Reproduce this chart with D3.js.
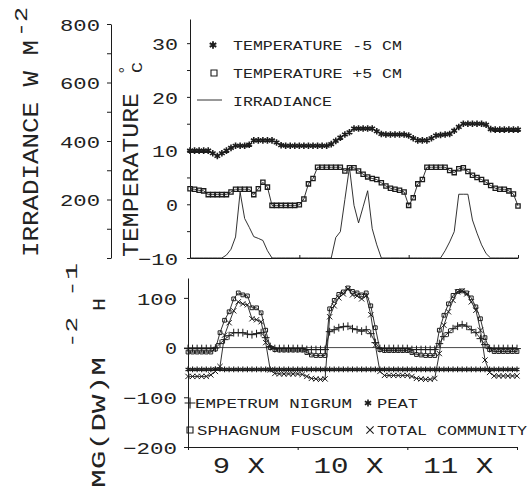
<!DOCTYPE html>
<html><head><meta charset="utf-8">
<script src="https://cdn.jsdelivr.net/npm/d3@7"></script>
<style>
body{margin:0;background:#fff;}
svg text{font-family:"Liberation Mono","DejaVu Sans Mono",monospace;fill:#222;}
</style></head><body>
<svg id="c" width="530" height="489"></svg>
<script>
// ---------- DATA (hourly, 9 X 00h .. 12 X 00h) ----------
const hours = d3.range(0, 73);
const dayBounds = [0, 24, 48, 72];
const dayLabels = ["9 X", "10 X", "11 X"];
const irrTicks = [0,100,200,300,400,500,600,700,800];
const irrLabels = [200,400,600,800];
const tempTicks = [-10,-5,0,5,10,15,20,25,30];
const tempLabels = [-10,0,10,20,30];
const fluxTicks = [-200,-100,0,100];

const tempDeep = [10.0,10.0,10.0,10.0,10.0,9.5,9.0,9.5,10.0,10.5,
 10.9,10.9,10.9,11.1,11.9,11.9,11.9,11.9,11.9,11.5,
 11.0,10.9,10.9,10.9,10.9,10.9,10.9,10.9,10.9,10.9,
 10.9,11.2,11.8,12.4,13.0,13.4,14.1,14.1,14.1,14.1,
 14.1,13.6,13.1,13.0,13.0,13.0,13.0,13.0,12.8,12.3,
 11.9,11.9,11.9,12.3,12.8,12.9,13.0,13.1,13.7,14.4,
 15.0,15.0,15.0,15.0,15.0,14.8,14.0,13.9,13.9,13.9,
 13.9,13.9,13.9];
const tempAir = [2.9,2.8,2.6,2.5,1.8,1.8,1.8,1.8,1.8,2.3,
 2.8,2.8,2.8,2.8,1.8,2.9,4.1,3.2,-0.2,-0.2,
 -0.2,-0.2,-0.2,-0.2,-0.1,1.0,3.8,4.8,6.9,6.9,
 6.9,6.9,6.9,6.9,6.2,6.8,6.8,6.2,5.6,5.1,
 4.8,4.6,4.0,3.4,3.0,2.8,2.6,2.3,-0.2,1.2,
 3.8,4.6,6.9,6.9,6.9,6.9,6.9,6.3,5.9,6.6,
 6.8,6.1,5.4,5.0,4.6,4.1,3.5,3.0,2.8,2.8,
 2.5,1.9,-0.3];
const irradiance = [0,0,0,0,0,0,0,0,10,30,
 72,225,135,105,73,67,60,25,0,0,
 0,0,0,0,0,0,0,0,0,0,
 0,0,70,90,200,310,180,120,175,230,
 100,45,0,0,0,0,0,0,0,0,
 0,0,0,0,0,0,25,55,90,218,
 218,218,130,85,45,15,0,0,0,0,
 0,0,0];
const sphagnum = [-9,-9,-9,-9,-9,-9,-3,30,55,72,
 98,110,106,104,80,80,70,35,0,-4,
 -5,-5,-5,-5,-5,-5,-10,-15,-16,-16,
 -16,78,95,107,112,120,113,110,106,110,
 84,40,-4,-6,-6,-6,-6,-6,-6,-10,
 -14,-15,-16,-16,-16,35,65,88,105,113,
 114,110,100,82,58,20,-4,-8,-8,-8,
 -8,-8,-8];
const empetrum = [-2,-2,-2,-2,-2,-2,-1,8,16,24,
 30,30,30,27,26,28,30,20,2,-2,
 -2,-2,-2,-2,-2,-2,-4,-4,-4,-4,
 -4,32,36,40,42,43,38,36,33,36,
 28,10,-2,-2,-2,-2,-2,-2,-2,-4,
 -4,-4,-4,-4,-4,8,22,30,38,43,
 46,43,36,30,18,6,-2,-2,-2,-2,
 -2,-2,-2];
const peat = [-44,-44,-44,-44,-44,-44,-43,-43,-44,-44,
 -44,-44,-44,-44,-44,-44,-44,-44,-44,-44,
 -44,-44,-44,-44,-44,-44,-44,-44,-44,-44,
 -44,-44,-44,-44,-44,-44,-44,-44,-44,-44,
 -44,-44,-44,-44,-44,-44,-44,-44,-44,-44,
 -44,-44,-44,-44,-44,-44,-44,-44,-44,-44,
 -44,-44,-44,-44,-44,-44,-44,-44,-44,-44,
 -44,-44,-44];
const totalCommunity = [-58,-58,-58,-58,-58,-55,-48,-38,25,50,
 74,92,88,86,58,56,52,10,-45,-52,
 -53,-53,-53,-53,-53,-54,-58,-62,-63,-64,
 -63,62,84,100,108,118,106,104,98,104,
 66,5,-48,-56,-56,-56,-56,-56,-56,-58,
 -62,-63,-64,-64,-62,-12,45,72,95,112,
 114,108,92,75,35,-25,-50,-57,-57,-57,
 -57,-57,-57];

// ---------- DRAWING ----------
const ink = "#1c1c1c";
const svg = d3.select("#c");
svg.append("rect").attr("width",530).attr("height",489).attr("fill","#fff");

const xTop = d3.scaleLinear().domain([0,72]).range([190,518]);
const yTemp = d3.scaleLinear().domain([-10,34.5]).range([258,19]);
const yIrr = d3.scaleLinear().domain([0,800]).range([258,24]);
const xBot = d3.scaleLinear().domain([0,72]).range([188,517]);
const yFlux = d3.scaleLinear().domain([-200,140]).range([447,278]);

const symAst = d3.symbolAsterisk || d3.symbolCross;
const symPlus = d3.symbolPlus || d3.symbolCross;
const symTimes = d3.symbolTimes || d3.symbolX || d3.symbolCross;
const symSq = d3.symbolSquare;

function txt(parent, x, y, s, size, o = {}) {
  const t = parent.append("text").attr("x", x).attr("y", y)
    .attr("font-size", size).text(s);
  if (o.anchor) t.attr("text-anchor", o.anchor);
  if (o.len) t.attr("textLength", o.len).attr("lengthAdjust", "spacingAndGlyphs");
  if (o.rot) t.attr("transform", `rotate(-90 ${x} ${y})`);
  return t;
}
function styleAxis(g) {
  g.selectAll("path,line").attr("stroke", ink).attr("stroke-width", 1);
  g.selectAll("text").attr("font-family", null).attr("fill", ink);
}
function labelLen(s) { return 14 * String(s).length - 2; }

// --- top panel axes ---
const gI = svg.append("g").attr("transform", "translate(111,0)")
  .call(d3.axisLeft(yIrr).tickValues(irrTicks).tickSize(4).tickSizeOuter(0).tickPadding(7)
    .tickFormat(d => irrLabels.includes(d) ? String(d) : ""));
styleAxis(gI);
gI.selectAll("text").attr("font-size", 17).attr("dy", "0.36em")
  .each(function(){ const s = this.textContent; if (s) d3.select(this).attr("textLength", labelLen(s)).attr("lengthAdjust","spacingAndGlyphs"); });

const gT = svg.append("g").attr("transform", "translate(190,0)")
  .call(d3.axisLeft(yTemp).tickValues(tempTicks).tickSize(3).tickSizeOuter(0).tickPadding(9)
    .tickFormat(d => tempLabels.includes(d) ? d3.format("")(d) : ""));
styleAxis(gT);
gT.selectAll("text").attr("font-size", 17).attr("dy", "0.36em")
  .each(function(){ const s = this.textContent; if (s) d3.select(this).attr("textLength", labelLen(s)).attr("lengthAdjust","spacingAndGlyphs"); });

const gXT = svg.append("g").attr("transform", `translate(0,${yTemp(-10)})`)
  .call(d3.axisBottom(xTop).tickValues(dayBounds).tickSize(-3).tickSizeOuter(0).tickFormat(""));
styleAxis(gXT);

// --- bottom panel axes ---
const gF = svg.append("g").attr("transform", "translate(188,0)")
  .call(d3.axisLeft(yFlux).tickValues(fluxTicks).tickSize(4).tickSizeOuter(0).tickPadding(7)
    .tickFormat(d3.format("")));
styleAxis(gF);
gF.selectAll("text").attr("font-size", 17).attr("dy", "0.36em")
  .each(function(){ const s = this.textContent; d3.select(this).attr("textLength", labelLen(s)).attr("lengthAdjust","spacingAndGlyphs"); });

const gXB = svg.append("g").attr("transform", `translate(0,${yFlux(-200)})`)
  .call(d3.axisBottom(xBot).tickValues(dayBounds).tickSize(3).tickSizeOuter(0).tickFormat(""));
styleAxis(gXB);

// zero reference line
svg.append("line").attr("x1", xBot(0)).attr("x2", xBot(72))
  .attr("y1", yFlux(0)).attr("y2", yFlux(0)).attr("stroke", ink).attr("stroke-width", 0.8);

// day labels
dayLabels.forEach((s, i) => {
  txt(svg, xBot(dayBounds[i] + 12) - 4, 473, s, 22, {anchor: "middle", len: s.length * 18 - 2});
});

// --- series ---
function series(xs, ys, data, sym, size, sw) {
  const line = d3.line().x((d, i) => xs(hours[i])).y(d => ys(d));
  svg.append("path").datum(data).attr("d", line).attr("fill", "none")
    .attr("stroke", ink).attr("stroke-width", 0.9);
  if (sym) {
    const gen = d3.symbol().type(sym).size(size);
    svg.append("g").selectAll("path").data(data).join("path")
      .attr("transform", (d, i) => `translate(${xs(hours[i])},${ys(d)})`)
      .attr("d", gen).attr("fill", "none").attr("stroke", ink).attr("stroke-width", sw);
  }
}
series(xTop, yIrr, irradiance, null);
series(xTop, yTemp, tempDeep, symAst, 30, 1.6);
series(xTop, yTemp, tempAir, symSq, 18, 1.3);

series(xBot, yFlux, peat, symAst, 22, 1.2);
series(xBot, yFlux, totalCommunity, symTimes, 20, 1.0);
series(xBot, yFlux, empetrum, symPlus, 22, 1.0);
series(xBot, yFlux, sphagnum, symSq, 14, 1.0);

// --- top legend ---
function sym(x, y, type, size, sw) {
  svg.append("path").attr("transform", `translate(${x},${y})`)
    .attr("d", d3.symbol().type(type).size(size)).attr("fill", "none")
    .attr("stroke", ink).attr("stroke-width", sw);
}
sym(213, 45, symAst, 40, 1.8);
txt(svg, 233, 50, "TEMPERATURE -5 CM", 13, {len: 169});
sym(214, 73, symSq, 36, 1.1);
txt(svg, 233, 78, "TEMPERATURE +5 CM", 13, {len: 169});
svg.append("line").attr("x1", 197).attr("x2", 222).attr("y1", 100).attr("y2", 100)
  .attr("stroke", ink).attr("stroke-width", 0.9);
txt(svg, 233, 105.5, "IRRADIANCE", 13, {len: 99});

// --- bottom legend ---
sym(190, 403, symPlus, 40, 1.2);
txt(svg, 195, 408, "EMPETRUM NIGRUM", 13.5, {len: 157});
sym(368, 403, symAst, 36, 1.6);
txt(svg, 377, 408, "PEAT", 13.5, {len: 41});
sym(190, 430, symSq, 36, 1.1);
txt(svg, 197, 435, "SPHAGNUM FUSCUM", 13.5, {len: 156});
sym(370, 430, symTimes, 36, 1.1);
txt(svg, 377, 435, "TOTAL COMMUNITY", 13.5, {len: 150});

// --- axis titles ---
txt(svg, 38, 257, "IRRADIANCE W M", 22, {rot: true, len: 217});
txt(svg, 27, 37, "-2", 19, {rot: true, len: 30});
txt(svg, 138, 257, "TEMPERATURE", 22, {rot: true, len: 164});
txt(svg, 130, 75, "°", 16, {rot: true});
txt(svg, 142, 73, "C", 15, {rot: true, len: 11});
txt(svg, 105, 488, "MG(DW)M", 21, {rot: true, len: 131});
txt(svg, 77, 348, "-2", 16, {rot: true, len: 31});
txt(svg, 105, 311, "H", 19, {rot: true, len: 13});
txt(svg, 77, 297, "-1", 16, {rot: true, len: 34});
</script>
</body></html>
